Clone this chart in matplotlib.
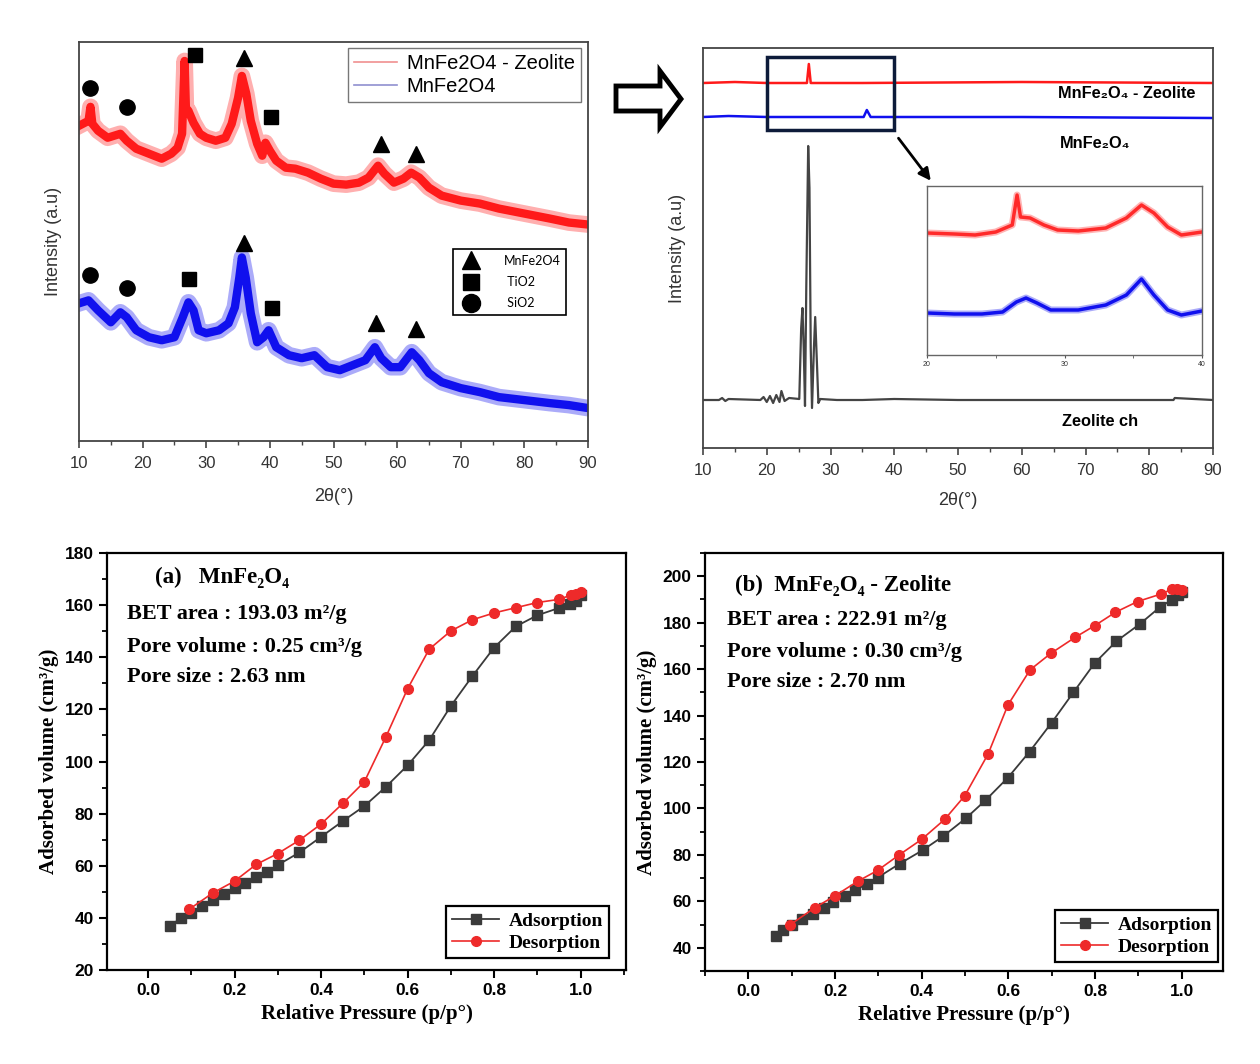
import matplotlib
matplotlib.use("Agg")
import matplotlib.pyplot as plt
from matplotlib.lines import Line2D
from matplotlib.patches import Polygon, Rectangle
from matplotlib.ticker import MultipleLocator

plt.rcParams['font.family'] = ['Liberation Sans', 'DejaVu Sans']

# ---- XRD, left panel (arbitrary intensity units) ----
red_tt = [10, 11.5, 11.8, 12.1, 13, 14.5, 16.5, 17.5, 19, 21, 23, 24.5, 25.5, 26.2, 26.6, 26.8,
          27.2, 28, 29, 30, 31.5, 33, 34, 35, 35.6, 36.3, 37, 38, 38.8, 39.3, 40, 41, 42.5,
          44, 46, 48, 50, 52, 54, 55.5, 57, 58, 59.5, 61, 62.2, 63.5, 65, 67, 70, 73, 76,
          80, 84, 87, 90]
red_int = [316, 321, 335, 318, 311, 304, 308, 301, 293, 288, 283, 288, 294, 308, 381, 334,
           331, 319, 308, 304, 301, 304, 318, 344, 366, 348, 321, 298, 286, 299, 291, 281, 274,
           273, 269, 263, 258, 257, 259, 264, 276, 268, 259, 263, 269, 264, 254, 246, 241, 238, 233,
           228, 223, 219, 217]
blue_tt = [10, 11.5, 13, 15, 16.5, 17.5, 19, 21, 23, 25, 26.3, 27.2, 28, 28.8, 30, 32, 33.5,
           34.5, 35.2, 35.6, 36.2, 37, 38, 39, 39.8, 41, 43, 45, 47, 49, 51, 53, 55, 56.5,
           57.5, 59, 60.5, 62.3, 63.5, 65, 67, 70, 73, 76, 80, 84, 87, 90]
blue_int = [138, 141, 131, 119, 129, 124, 111, 104, 101, 104, 124, 139, 131, 111, 108, 111, 118,
            134, 164, 184, 164, 128, 99, 104, 111, 94, 86, 83, 86, 74, 71, 76, 81, 94,
            83, 74, 74, 89, 81, 68, 59, 53, 49, 44, 41, 38, 36, 33]

# phase markers: 2theta and height
mnfe_tt = [35.9, 57.4, 62.9, 35.9, 56.7, 62.9]
mnfe_h = [384, 298, 288, 198, 118, 112]
tio2_tt = [28.2, 40.1, 27.3, 40.4]
tio2_h = [387, 325, 162, 133]
sio2_tt = [11.8, 17.5, 11.8, 17.5]
sio2_h = [354, 335, 166, 153]

# ---- XRD, right panel ----
r2_red_tt = [10, 15, 20, 26.3, 26.6, 26.9, 35, 60, 90]
r2_red_int = [365, 366, 365, 365, 384, 365, 365, 366, 365]
r2_blue_tt = [10, 14, 20, 35.2, 35.7, 36.3, 60, 90]
r2_blue_int = [331, 332, 331, 331, 338, 331, 331, 330]
zeo_tt = [10, 12.5, 13, 13.5, 14, 19, 19.5, 20, 20.5, 21, 21.5, 22, 22.3, 22.8, 23.5, 25.1,
          25.4, 25.6, 25.8, 26.0, 26.2, 26.5, 26.7, 26.9, 27.1, 27.4, 27.6, 27.9, 28.1, 28.4,
          31, 35, 40, 50, 60, 70, 83.8, 84, 90]
zeo_int = [48, 48, 50, 47, 49, 48, 51, 46, 52, 45, 53, 46, 57, 47, 50, 49,
           120, 140, 100, 42, 160, 302, 260, 100, 40, 100, 131, 80, 45, 49,
           48, 48, 49, 48, 48, 48, 48, 50, 48]

# inset 20-40
in_red_tt = [20, 22, 23.5, 25, 26.2, 26.55, 26.8, 27.5, 28.5, 29.5, 31, 33, 34.5, 35.6,
             36.5, 37.5, 38.5, 40]
in_red_int = [122, 121, 120, 123, 130, 160, 138, 137, 130, 125, 124, 127, 137, 150,
              142, 128, 120, 123]
in_blue_tt = [20, 22, 24, 25.5, 26.5, 27.2, 28, 29, 31, 33, 34.5, 35.6, 36.5, 37.5, 38.5, 40]
in_blue_int = [42, 41, 41, 43, 53, 57, 52, 45, 45, 50, 60, 76, 60, 45, 40, 44]

# ---- BET isotherms ----
a_ads_p = [0.05, 0.075, 0.1, 0.125, 0.15, 0.175, 0.2, 0.225, 0.25, 0.275, 0.3, 0.35, 0.4,
           0.45, 0.5, 0.55, 0.6, 0.65, 0.7, 0.75, 0.8, 0.85, 0.9, 0.95, 0.975, 0.99, 1.0]
a_ads_v = [36.9, 39.8, 42.0, 44.5, 47.0, 49.1, 51.3, 53.5, 55.8, 57.7, 60.3, 65.1, 71.1,
           77.1, 82.9, 90.3, 98.5, 108.2, 121.3, 132.8, 143.7, 151.8, 156.1, 158.9, 160.3,
           161.6, 163.8]
a_des_p = [1.0, 0.99, 0.977, 0.95, 0.9, 0.85, 0.8, 0.75, 0.7, 0.65, 0.6, 0.55, 0.5, 0.45,
           0.4, 0.35, 0.3, 0.25, 0.2, 0.15, 0.095]
a_des_v = [165.0, 164.4, 163.8, 162.2, 161.0, 159.0, 157.0, 154.4, 150.1, 143.1, 127.9,
           109.5, 92.2, 83.9, 76.0, 69.8, 64.7, 60.5, 54.1, 49.6, 43.3]

b_ads_p = [0.063, 0.079, 0.1, 0.123, 0.149, 0.174, 0.196, 0.223, 0.246, 0.274, 0.298, 0.349,
           0.402, 0.45, 0.502, 0.547, 0.599, 0.649, 0.7, 0.75, 0.799, 0.849, 0.903, 0.949,
           0.977, 0.991, 1.0]
b_ads_v = [45.0, 47.6, 50.0, 52.5, 54.6, 57.2, 59.7, 62.3, 64.7, 67.6, 70.2, 76.2, 82.0,
           88.1, 95.8, 103.5, 113.3, 124.5, 137.0, 150.0, 162.6, 172.0, 179.4, 186.6, 189.9,
           191.7, 193.4]
b_des_p = [1.0, 0.99, 0.977, 0.953, 0.898, 0.847, 0.799, 0.754, 0.698, 0.65, 0.599, 0.553,
           0.499, 0.453, 0.4, 0.348, 0.298, 0.253, 0.199, 0.153, 0.097]
b_des_v = [194.1, 194.4, 194.4, 192.4, 189.1, 184.5, 178.7, 173.7, 166.8, 159.7, 144.6,
           123.4, 105.4, 95.3, 86.7, 80.0, 73.3, 68.7, 62.3, 57.2, 50.0]

W, H = 1260, 1064
fig = plt.figure(figsize=(12.6, 10.64), dpi=100)


def px_axes(l, t, r, b):
    return fig.add_axes([l / W, 1 - b / H, (r - l) / W, (b - t) / H])


def xrd_style(ax, xpad):
    for s in ax.spines.values():
        s.set_color('#444444')
        s.set_linewidth(1.3)
    ax.set_xlim(10, 90)
    ax.set_ylim(0, 400)
    ax.set_yticks([])
    ax.xaxis.set_major_locator(MultipleLocator(10))
    ax.xaxis.set_minor_locator(MultipleLocator(5))
    ax.tick_params(axis='x', which='major', direction='out', length=5, width=1.2,
                   color='#444444', labelsize=12, labelcolor='#333333', pad=6)
    ax.tick_params(axis='x', which='minor', direction='out', length=3, width=1.0, color='#444444')
    ax.set_xlabel('2θ(°)', fontsize=13, color='#333333', labelpad=xpad)
    ax.set_ylabel('Intensity (a.u)', fontsize=13, color='#333333', labelpad=12)


def band(ax, x, y, c, lw):
    ax.plot(x, y, color=c, lw=lw * 2.0, alpha=0.35, solid_joinstyle='round')
    ax.plot(x, y, color=c, lw=lw, solid_joinstyle='round')


# ---- top left ----
ax1 = px_axes(79, 42, 588, 441)
band(ax1, red_tt, red_int, '#ff1a1a', 6)
band(ax1, blue_tt, blue_int, '#1010ee', 6)
ax1.plot(mnfe_tt, mnfe_h, '^', color='black', ms=11, ls='none')
ax1.plot(tio2_tt, tio2_h, 's', color='black', ms=10, ls='none')
ax1.plot(sio2_tt, sio2_h, 'o', color='black', ms=11, ls='none')
xrd_style(ax1, 12)
leg1 = ax1.legend(handles=[Line2D([], [], color='#f09090', lw=1.2),
                           Line2D([], [], color='#9090d0', lw=1.2)],
                  labels=['MnFe2O4 - Zeolite', 'MnFe2O4'],
                  loc='upper right', bbox_to_anchor=(0.986, 0.985), borderaxespad=0,
                  fontsize=14.5, handlelength=2.1, fancybox=False, edgecolor='#777777',
                  framealpha=1, labelspacing=0.2, borderpad=0.3, handletextpad=0.5)
ax1.add_artist(leg1)
leg2 = ax1.legend(handles=[Line2D([], [], marker='^', color='black', ls='none', ms=13),
                           Line2D([], [], marker='s', color='black', ls='none', ms=12),
                           Line2D([], [], marker='o', color='black', ls='none', ms=13)],
                  labels=['MnFe2O4', ' TiO2', ' SiO2'],
                  loc='upper left', bbox_to_anchor=(0.735, 0.481), borderaxespad=0,
                  prop={'family': 'Lato', 'size': 9}, fancybox=False, edgecolor='black',
                  framealpha=1, labelspacing=0.75, handletextpad=1.6, borderpad=0.45)
leg2.get_frame().set_linewidth(1.2)

# ---- top right ----
ax2 = px_axes(703, 48, 1213, 448)
ax2.plot(r2_red_tt, r2_red_int, color='#ff1a1a', lw=1.8)
ax2.plot(r2_blue_tt, r2_blue_int, color='#1010ee', lw=1.8)
ax2.plot(zeo_tt, zeo_int, color='#444444', lw=1.6)
xrd_style(ax2, 10)
ax2.add_patch(Rectangle((20, 318), 20, 73, fill=False, edgecolor='#0d1b3a', lw=2.5, zorder=5))
ax2.annotate('', xy=(46, 265), xytext=(40.4, 312),
             arrowprops=dict(arrowstyle='-|>', color='black', lw=2, mutation_scale=18))
ax2.text(0.696, 0.885, 'MnFe₂O₄ - Zeolite', transform=ax2.transAxes, fontsize=11.8,
         fontweight='bold', va='center')
ax2.text(0.70, 0.7625, 'MnFe₂O₄', transform=ax2.transAxes, fontsize=11.8,
         fontweight='bold', va='center')
ax2.text(0.704, 0.0675, 'Zeolite ch', transform=ax2.transAxes, fontsize=11.8,
         fontweight='bold', va='center')

# inset
axi = px_axes(927, 186, 1202, 355)
band(axi, in_red_tt, in_red_int, '#ff2a2a', 2.5)
band(axi, in_blue_tt, in_blue_int, '#1010ee', 2.5)
axi.set_xlim(20, 40)
axi.set_ylim(0, 169)
axi.set_yticks([])
axi.set_xticks([20, 30, 40])
axi.xaxis.set_minor_locator(MultipleLocator(5))
axi.tick_params(axis='x', which='both', direction='out', length=2, labelsize=5,
                color='#555555', labelcolor='#333333', pad=2)
for s in axi.spines.values():
    s.set_color('#666666')
    s.set_linewidth(1)

# hollow arrow between panels
pts = [(616, 86), (660, 86), (660, 71), (681, 99), (660, 127), (660, 111), (616, 111)]
fig.patches.append(Polygon([(x / W, 1 - y / H) for x, y in pts], closed=True, fill=False,
                           edgecolor='black', lw=3.5, joinstyle='miter',
                           transform=fig.transFigure, figure=fig))

# ---- BET panels ----
serif = ['Liberation Serif', 'DejaVu Serif']


def bet_panel(ax, ads_p, ads_v, des_p, des_v, ylim, ymaj, xlim, lines, title, title_pos,
              leg_anchor):
    ax.plot(ads_p, ads_v, '-s', color='#3a3a3a', lw=1.3, ms=7, label='Adsorption')
    ax.plot(des_p, des_v, '-o', color='#ee2a2a', lw=1.2, ms=7, label='Desorption')
    ax.set_xlim(*xlim)
    ax.set_ylim(*ylim)
    ax.xaxis.set_major_locator(MultipleLocator(0.2))
    ax.xaxis.set_minor_locator(MultipleLocator(0.1))
    ax.yaxis.set_major_locator(MultipleLocator(ymaj))
    ax.yaxis.set_minor_locator(MultipleLocator(ymaj / 2))
    ax.tick_params(which='major', direction='out', length=6, width=1.5, labelsize=12.5)
    ax.tick_params(which='minor', direction='out', length=3.5, width=1.3)
    for lab in ax.get_xticklabels() + ax.get_yticklabels():
        lab.set_fontweight('bold')
    for s in ax.spines.values():
        s.set_linewidth(1.6)
    ax.set_xlabel('Relative Pressure (p/p°)', family=serif, fontweight='bold', fontsize=15,
                  labelpad=4)
    ax.set_ylabel('Adsorbed volume (cm³/g)', family=serif, fontweight='bold', fontsize=15,
                  labelpad=4)
    ax.text(title_pos[0], title_pos[1], title, transform=ax.transAxes, family=serif,
            fontweight='bold', fontsize=16.5, va='center')
    for (tx, ty, s) in lines:
        ax.text(tx, ty, s, transform=ax.transAxes, family=serif, fontweight='bold',
                fontsize=16, va='center')
    leg = ax.legend(loc='lower right', bbox_to_anchor=leg_anchor, borderaxespad=0,
                    prop={'family': serif, 'weight': 'bold', 'size': 14}, fancybox=False,
                    edgecolor='black', framealpha=1, handlelength=2.4, labelspacing=0.25,
                    borderpad=0.3, handletextpad=0.5)
    leg.get_frame().set_linewidth(1.6)


ax3 = px_axes(107, 553, 626, 970)
bet_panel(ax3, a_ads_p, a_ads_v, a_des_p, a_des_v, (20, 180), 20, (-0.095, 1.105),
          [(0.038, 0.853, 'BET area : 193.03 m²/g'),
           (0.038, 0.774, 'Pore volume : 0.25 cm³/g'),
           (0.038, 0.702, 'Pore size : 2.63 nm')],
          '(a)   MnFe₂O₄', (0.092, 0.942), (0.967, 0.029))

ax4 = px_axes(705, 553, 1223, 971)
bet_panel(ax4, b_ads_p, b_ads_v, b_des_p, b_des_v, (30, 210), 20, (-0.1, 1.095),
          [(0.042, 0.84, 'BET area : 222.91 m²/g'),
           (0.042, 0.763, 'Pore volume : 0.30 cm³/g'),
           (0.042, 0.691, 'Pore size : 2.70 nm')],
          '(b)  MnFe₂O₄ - Zeolite', (0.058, 0.923), (0.99, 0.0215))
ax4.set_yticks([40, 60, 80, 100, 120, 140, 160, 180, 200])

fig.savefig('out.png', dpi=100)
